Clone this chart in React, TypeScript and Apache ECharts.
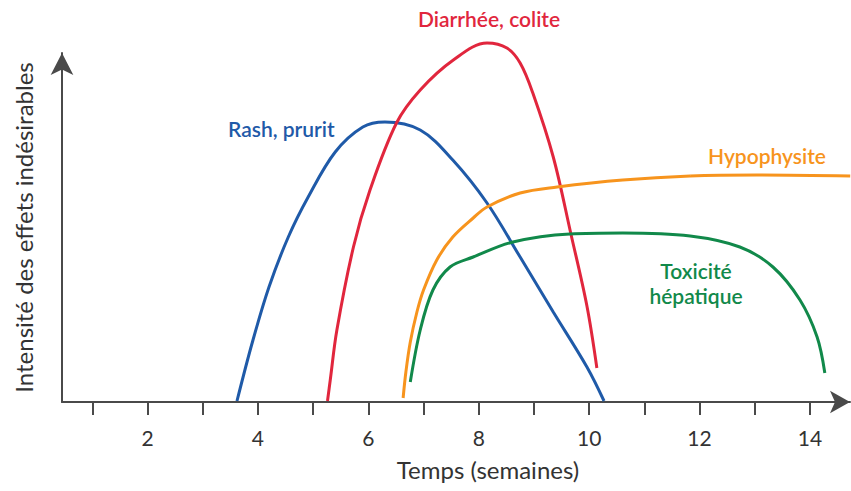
import React, { useEffect, useRef } from "react";
import * as echarts from "echarts";

// x: weeks, y: intensity (arbitrary units)
const rashX = [3.62, 3.9, 4.2, 4.55, 4.91, 5.4, 5.9, 6.3, 6.94, 7.53, 8.15, 8.75, 9.35, 9.96, 10.27];
const rashY = [1, 60, 115, 165, 205, 250, 275, 280, 272, 242, 199, 145, 90, 35, 1];

const diarX = [5.26, 5.31, 5.43, 5.73, 6.03, 6.51, 6.94, 7.54, 8.15, 8.51, 8.75, 8.98, 9.35, 9.67, 9.96, 10.14];
const diarY = [1, 22, 72, 155, 212, 279, 312, 342, 359, 354, 339, 309, 245, 168, 96, 34];

const hypoX = [6.63, 6.68, 6.76, 6.88, 7.0, 7.24, 7.53, 7.9, 8.15, 8.75, 9.42, 10.61, 11.83, 13.04, 14.73];
const hypoY = [4, 30, 60, 90, 112, 142, 165, 184, 195, 209, 215, 222, 226, 227, 226];

const toxX = [6.76, 6.94, 7.17, 7.48, 7.9, 8.62, 9.65, 10.61, 11.83, 12.73, 13.33, 13.82, 14.13, 14.27];
const toxY = [20, 72, 112, 135, 145, 160, 168, 169, 166, 155, 135, 102, 65, 29];

const tickValues = [1, 2, 3, 4, 5, 6, 7, 8, 9, 10, 11, 12, 13, 14];
const labelValues = [2, 4, 6, 8, 10, 12, 14];

const seriesNames = ["Rash, prurit", "Diarrhée, colite", "Hypophysite", "Toxicité hépatique"];
const colors = ["#1f5aa8", "#e1263d", "#f7941d", "#11894a"];

const zip = (xs: number[], ys: number[]) => xs.map((x, i) => [x, ys[i]]);

export default function App() {
  const ref = useRef<HTMLDivElement>(null);
  useEffect(() => {
    if (!ref.current) return;
    const chart = echarts.init(ref.current, null, { renderer: "svg" });
    const font = "Lato, 'Open Sans', sans-serif";
    const axisColor = "#4a4a4a";
    const datasets = [zip(rashX, rashY), zip(diarX, diarY), zip(hypoX, hypoY), zip(toxX, toxY)];
    const lbl = (text: string, x: number, y: number, color: string, align = "left") => ({
      type: "text",
      x,
      y,
      style: {
        text,
        fill: color,
        font: `600 21px ${font}`,
        align,
        verticalAlign: "middle",
        lineHeight: 25,
      },
    });
    chart.setOption({
      animation: false,
      backgroundColor: "#ffffff",
      grid: { left: 62, right: 1, top: 53, bottom: 89, containLabel: false },
      xAxis: {
        type: "value",
        min: 0.45,
        max: 14.726,
        name: "Temps (semaines)",
        nameLocation: "middle",
        nameGap: 55,
        nameTextStyle: { fontFamily: font, fontSize: 24, color: "#333", padding: [0, 0, 0, 64] },
        axisLine: {
          show: true,
          symbol: ["none", "arrow"],
          symbolSize: [17, 20],
          lineStyle: { color: axisColor, width: 2 },
        },
        axisTick: {
          show: true,
          customValues: tickValues,
          length: 13,
          lineStyle: { color: axisColor, width: 2 },
        },
        axisLabel: {
          show: true,
          customValues: labelValues,
          margin: 25,
          fontFamily: font,
          fontSize: 21,
          color: "#333",
        },
        splitLine: { show: false },
      },
      yAxis: {
        type: "value",
        min: 0,
        max: 349,
        name: "Intensité des effets indésirables",
        nameLocation: "middle",
        nameGap: 27,
        nameTextStyle: { fontFamily: font, fontSize: 24, color: "#333" },
        axisLine: {
          show: true,
          symbol: ["none", "arrow"],
          symbolSize: [17, 22],
          lineStyle: { color: axisColor, width: 2 },
        },
        axisTick: { show: false },
        axisLabel: { show: false },
        splitLine: { show: false },
      },
      series: datasets.map((d, i) => ({
        name: seriesNames[i],
        type: "line",
        data: d,
        smooth: 0.35,
        showSymbol: false,
        clip: false,
        lineStyle: { color: colors[i], width: 3 },
        itemStyle: { color: colors[i] },
      })),
      graphic: [
        lbl("Rash, prurit", 228, 128, colors[0]),
        lbl("Diarrhée, colite", 418, 18, colors[1]),
        lbl("Hypophysite", 708, 155, colors[2]),
        lbl("Toxicité\nhépatique", 696, 283, colors[3], "center"),
      ],
    });
    return () => chart.dispose();
  }, []);
  return (
    <div
      ref={ref}
      style={{ position: "fixed", left: 0, top: 0, width: 851, height: 491, background: "#fff" }}
    />
  );
}
